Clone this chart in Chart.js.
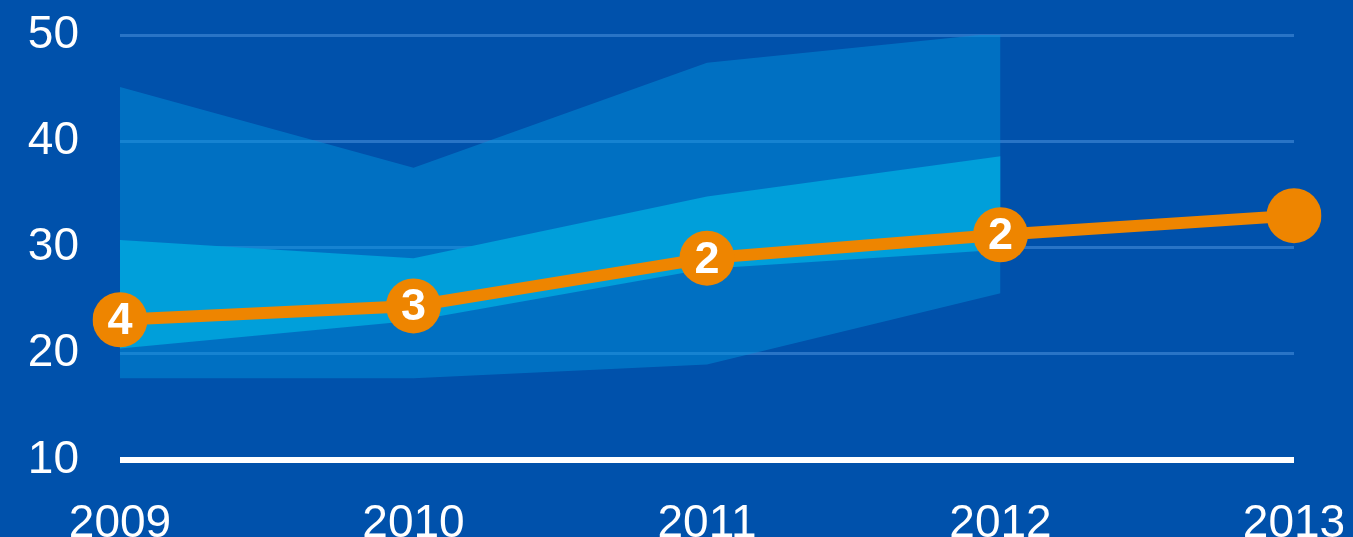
<!DOCTYPE html>
<html>
<head>
<meta charset="utf-8">
<script src="https://cdn.jsdelivr.net/npm/chart.js@4"></script>
<style>
  html, body { margin: 0; padding: 0; background: #0051ab; }
  #wrap { width: 1353px; height: 537px; }
</style>
</head>
<body>
<div id="wrap"><canvas id="chart" width="1353" height="537"></canvas></div>
<script>
var years = ['2009', '2010', '2011', '2012', '2013'];
var actual = [23.2, 24.5, 29.0, 31.2, 33.0];
var actualCounts = ['4', '3', '2', '2', ''];
var outerHigh = [45.1, 37.5, 47.4, 50.2, null];
var outerLow = [17.7, 17.7, 19.0, 25.7, null];
var innerHigh = [30.7, 29.0, 34.8, 38.6, null];
var innerLow = [20.5, 23.1, 28.0, 29.8, null];
var yTicks = [10, 20, 30, 40, 50];

var bandLine = { borderWidth: 0, pointRadius: 0, tension: 0, spanGaps: false };

// white count inside each orange marker
var countLabels = {
    id: 'countLabels',
    afterDatasetsDraw: function(chart) {
        var ctx = chart.ctx;
        var meta = chart.getDatasetMeta(0);
        ctx.save();
        ctx.fillStyle = '#ffffff';
        ctx.font = 'bold 45px "Liberation Sans", Arial, sans-serif';
        ctx.textAlign = 'center';
        ctx.textBaseline = 'middle';
        meta.data.forEach(function(pt, i) {
            if (actualCounts[i]) ctx.fillText(actualCounts[i], pt.x, pt.y + 2);
        });
        ctx.restore();
    }
};

// let the layout padding alone decide the plot area
function noEdgePadding(scale) {
    scale.paddingTop = 0;
    scale.paddingBottom = 0;
    scale.paddingLeft = 0;
    scale.paddingRight = 0;
}

var ctx = document.getElementById('chart').getContext('2d');
var chart = new Chart(ctx, {
    type: 'line',
    data: {
        labels: years,
        datasets: [{
            data: actual,
            borderColor: '#ee8500',
            backgroundColor: '#ee8500',
            borderWidth: 12,
            pointRadius: 27.5,
            pointBorderWidth: 0,
            pointBackgroundColor: '#ee8500',
            tension: 0,
            fill: false
        }, Object.assign({
            data: innerHigh,
            fill: '+1',
            backgroundColor: '#009fda'
        }, bandLine), Object.assign({
            data: innerLow,
            fill: false
        }, bandLine), Object.assign({
            data: outerHigh,
            fill: '+1',
            backgroundColor: 'rgba(0, 150, 222, 0.45)'
        }, bandLine), Object.assign({
            data: outerLow,
            fill: false
        }, bandLine)]
    },
    options: {
        responsive: false,
        animation: false,
        layout: { padding: { top: 35, right: 59, left: 0, bottom: 0 } },
        plugins: {
            legend: { display: false },
            tooltip: { enabled: false }
        },
        scales: {
            x: {
                offset: false,
                border: { display: false },
                grid: { display: false, drawTicks: false },
                ticks: {
                    color: '#ffffff',
                    font: { family: '"Liberation Sans", Arial, sans-serif', size: 46 },
                    padding: 37,
                    autoSkip: false,
                    maxRotation: 0
                },
                afterFit: function(scale) {
                    scale.height = 77;
                    noEdgePadding(scale);
                }
            },
            y: {
                min: 10,
                max: 50,
                border: { display: false },
                grid: {
                    drawTicks: false,
                    color: function(c) { return c.tick && c.tick.value === 10 ? '#ffffff' : 'rgba(90, 160, 230, 0.45)'; },
                    lineWidth: function(c) { return c.tick && c.tick.value === 10 ? 6 : 3; }
                },
                afterBuildTicks: function(scale) {
                    scale.ticks = yTicks.map(function(v) { return { value: v }; });
                },
                ticks: {
                    color: '#ffffff',
                    font: { family: '"Liberation Sans", Arial, sans-serif', size: 46 },
                    padding: 41
                },
                afterFit: function(scale) {
                    scale.width = 120;
                    noEdgePadding(scale);
                }
            }
        }
    },
    plugins: [countLabels]
});
</script>
</body>
</html>
